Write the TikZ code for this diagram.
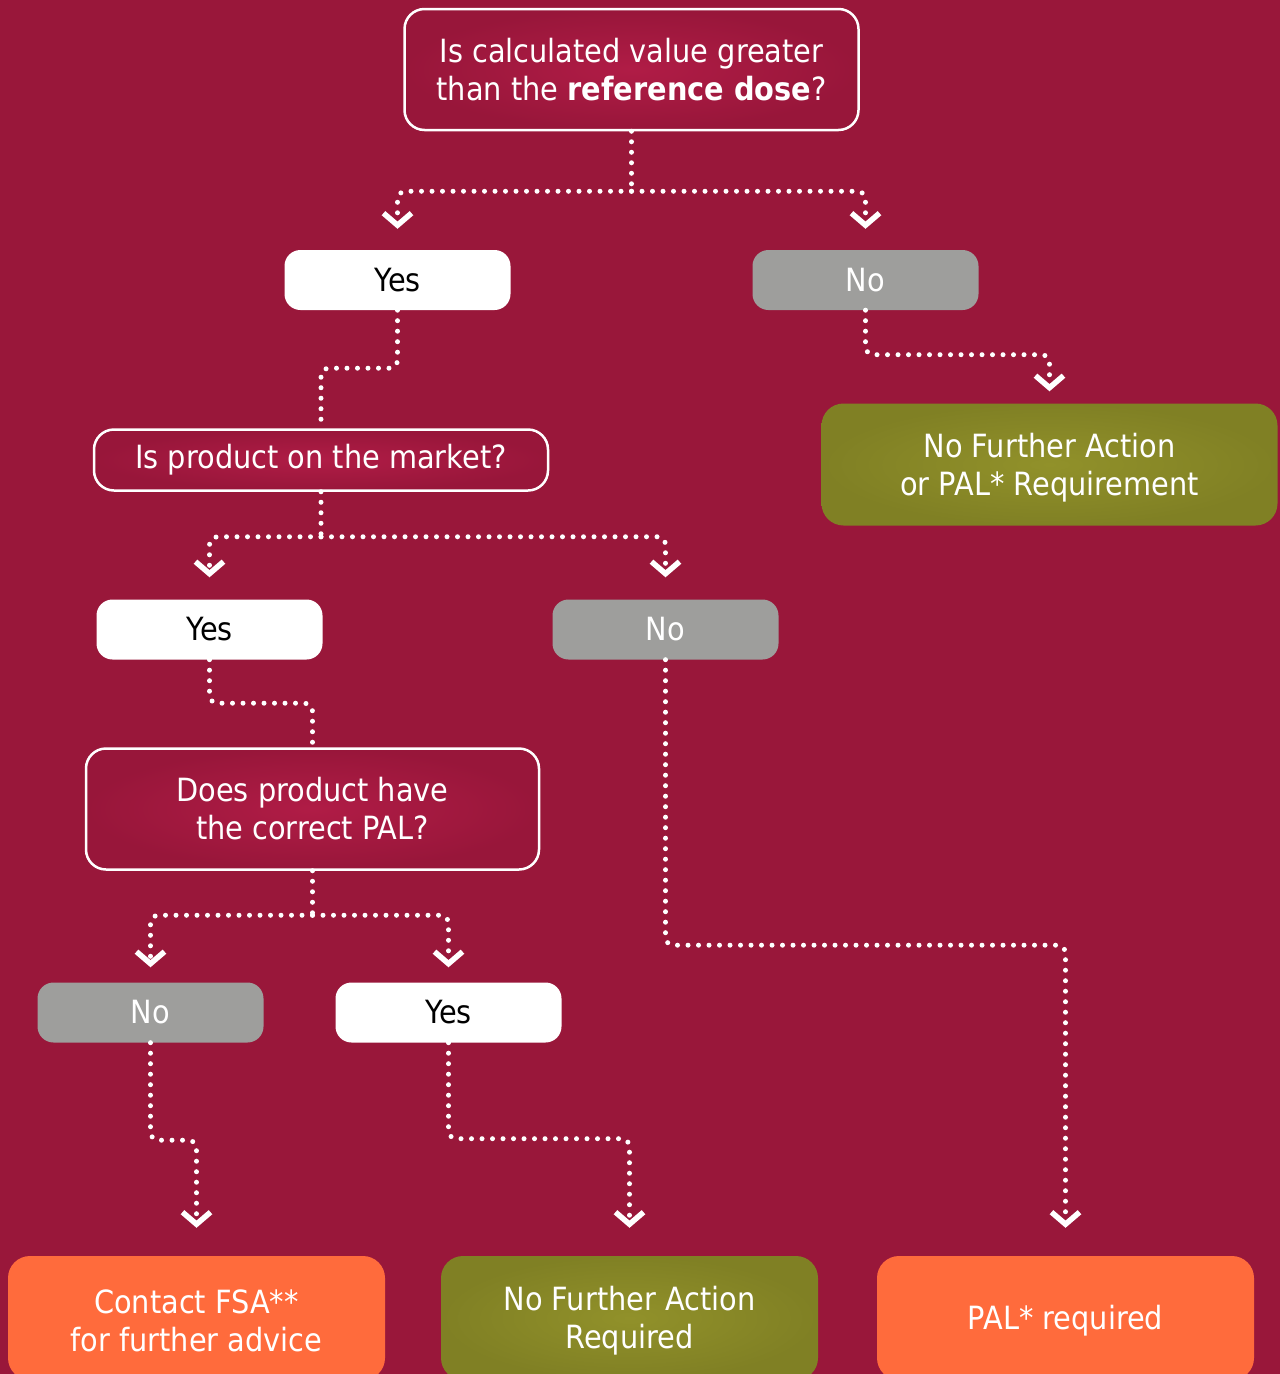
\documentclass[tikz,border=0pt]{standalone}
\usepackage{fontspec}
\setmainfont[FakeStretch=0.9]{DejaVu Sans}
\usetikzlibrary{arrows.meta,calc}
\definecolor{bg}{RGB}{153,23,58}
\definecolor{boxin}{RGB}{176,28,70}
\definecolor{boxout}{RGB}{152,22,58}
\definecolor{gry}{RGB}{158,158,156}
\definecolor{olin}{RGB}{145,145,42}
\definecolor{olout}{RGB}{128,128,36}
\definecolor{orng}{RGB}{255,107,60}
\begin{document}
\begin{tikzpicture}[x=1pt,y=-1pt,
  txt/.style={align=center, font=\fontsize{32}{38}\selectfont, inner sep=0pt},
  qbox/.style={txt, draw=white, line width=2.5pt, rounded corners=20pt, inner color=boxin, outer color=boxout, text=white},
  ans/.style={txt, rounded corners=16pt, minimum width=226pt, minimum height=60pt},
  yesbox/.style={ans, fill=white, text=black},
  nobox/.style={ans, fill=gry, text=white},
  olbox/.style={txt, rounded corners=22pt, inner color=olin, outer color=olout},
  orbox/.style={txt, rounded corners=22pt, fill=orng},
  wtxt/.style={txt, text=white},
  dots/.style={white, line width=5pt, line cap=round, dash pattern=on 0pt off 10.5pt, rounded corners=8pt},
  arr/.style={dots, -{Straight Barb[length=12pt,width=28pt,line width'=5.5pt]}}
]
\fill[bg] (0,0) rectangle (1280,1374);
\useasboundingbox (0,0) rectangle (1280,1374);

\node[qbox, minimum width=454pt, minimum height=121pt] (top) at (631.5,69.5) {Is calculated value greater\\than the \textbf{reference dose}?};
\node[yesbox] (yes1) at (397.5,280) {Yes};
\node[nobox] (no1) at (865.5,280) {No};
\node[olbox, minimum width=456pt, minimum height=122pt] (nfa1) at (1049.5,464.5) {};
\node[wtxt] (nfa1t) at ($(nfa1.center)+(0,3.5)$) {No Further Action\\or PAL* Requirement};
\node[qbox, minimum width=454pt, minimum height=61pt] (mkt) at (321,460) {Is product on the market?};
\node[yesbox] (yes2) at (209.5,629.5) {Yes};
\node[nobox] (no2) at (665.5,629.5) {No};
\node[qbox, minimum width=453pt, minimum height=121pt] (pal) at (312.5,809) {Does product have\\the correct PAL?};
\node[nobox] (no3) at (150.5,1012.5) {No};
\node[yesbox] (yes3) at (448.5,1012.5) {Yes};
\node[orbox, minimum width=377pt, minimum height=124pt] (fsa) at (196.5,1318) {};
\node[wtxt] (fsat) at ($(fsa.center)+(0,3)$) {Contact FSA**\\for further advice};
\node[olbox, minimum width=377pt, minimum height=124pt] (nfa2) at (629.5,1318) {};
\node[wtxt] (nfa2t) at ($(nfa2.center)+(0,3)$) {No Further Action\\Required};
\node[orbox, minimum width=377pt, minimum height=124pt] (palreq) at (1065.5,1318) {};
\node[wtxt] (palreqt) at ($(palreq.center)+(0,3)$) {PAL* required};

\draw[dots] (top.south) -- ++(0,60) coordinate (j1);
\draw[arr, shorten >=21pt] (j1) -| (yes1.north);
\draw[arr, shorten >=21pt] (j1) -| (no1.north);
\draw[dots] (yes1.south) -- ++(0,58) -| (mkt.north);
\draw[arr, shorten >=12pt] (no1.south) -- ++(0,44.5) -| (nfa1.north);
\draw[dots] (mkt.south) -- ++(0,45) coordinate (j2);
\draw[arr, shorten >=22pt] (j2) -| (yes2.north);
\draw[arr, shorten >=22pt] (j2) -| (no2.north);
\draw[dots] (yes2.south) -- ++(0,43.5) -| (pal.north);
\draw[dots] (pal.south) -- ++(0,44.5) coordinate (j3);
\draw[arr, shorten >=15pt] (j3) -| (no3.north);
\draw[arr, shorten >=15pt] (j3) -| (yes3.north);
\draw[arr, shorten >=28pt] (no3.south) -- ++(0,97.5) -| (fsa.north);
\draw[arr, shorten >=28pt] (yes3.south) -- ++(0,96) -| (nfa2.north);
\draw[arr, shorten >=28pt] (no2.south) -- ++(0,285.5) -| (palreq.north);
\end{tikzpicture}
\end{document}
